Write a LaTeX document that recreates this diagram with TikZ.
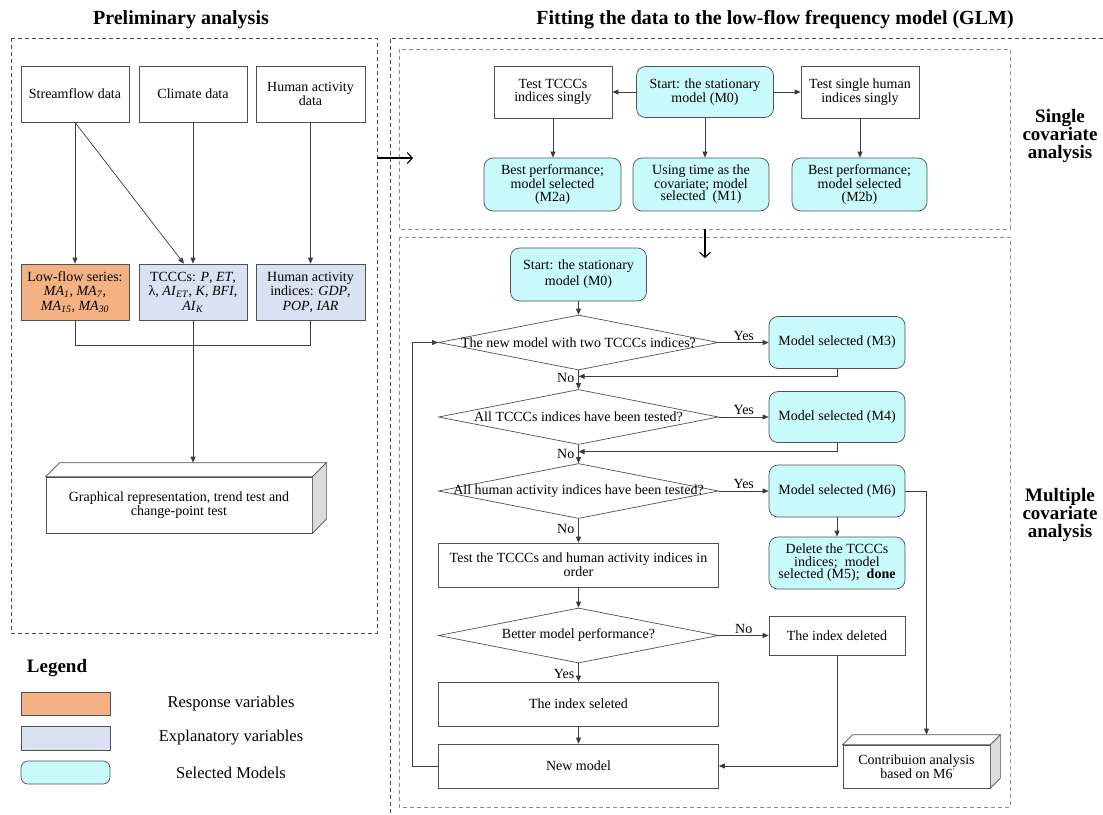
\documentclass[tikz,border=0pt]{standalone}
\usepackage{fontspec}
\setmainfont{Liberation Serif}
\usetikzlibrary{arrows.meta,calc,shapes.geometric}
\definecolor{orangef}{RGB}{244,177,131}
\definecolor{lavf}{RGB}{218,225,243}
\definecolor{cyanf}{RGB}{200,250,252}
\definecolor{bord}{RGB}{80,80,80}
\definecolor{connc}{RGB}{60,60,60}
\begin{document}
\begin{tikzpicture}[x=1pt,y=-1pt,
 every node/.style={font=\fontsize{14}{12.5}\selectfont},
 box/.style={draw=bord, line width=0.7pt, fill=white, align=center, inner sep=0pt},
 sel/.style={box, fill=cyanf, rounded corners=9pt},
 dia/.style={diamond, draw=bord, line width=0.7pt, fill=white, inner sep=0pt, minimum width=280pt, minimum height=55pt},
 sz/.style 2 args={minimum width=#1pt, minimum height=#2pt},
 ln/.style={draw=connc, line width=0.7pt},
 face/.style={draw=bord, line width=0.7pt},
 arr/.style={ln, -{Triangle[length=6pt,width=5pt]}},
 bigarr/.style={draw=black, line width=1.1pt, -{Straight Barb[length=5pt,width=11pt]}},
 panel/.style={draw=black!70, dash pattern=on 4pt off 3pt, line width=0.7pt},
 subpanel/.style={draw=black!45, dash pattern=on 4pt off 3pt, line width=0.7pt},
 ttl/.style={font=\fontsize{20}{22}\selectfont\bfseries},
 side/.style={font=\fontsize{19}{18}\selectfont\bfseries, align=center},
 lab/.style={font=\fontsize{14}{14}\selectfont, inner sep=1pt},
 leg/.style={font=\fontsize{16.5}{18}\selectfont},
 idx/.style={font=\fontsize{14}{14.5}\selectfont}
]
\useasboundingbox (0,0) rectangle (1103,814);

% titles
\node[ttl] (t1) at (181,20) {Preliminary analysis};
\node[ttl] (t2) at (775,20) {Fitting the data to the low-flow frequency model (GLM)};

% panels
\draw[panel] (11,38) rectangle (377,633);
\draw[panel] (390,820) -- (390,38) -- (1110,38);
\draw[subpanel] (399,49) rectangle (1010,229);
\draw[subpanel] (399,237) rectangle (1010,807);

% ---------- left panel ----------
\node[box, sz={108}{56}] (sf) at (75,94) {Streamflow data};
\node[box, sz={108}{56}] (cd) at (193,94) {Climate data};
\node[box, sz={109}{56}] (ha) at (310.5,94) {Human activity\\data};
\node[box, idx, fill=orangef, sz={108}{56}] (lf) at (75,292) {Low-flow series:\\\textit{MA}\textsubscript{\textit{1}}, \textit{MA}\textsubscript{\textit{7}},\\\textit{MA}\textsubscript{\textit{15}}, \textit{MA}\textsubscript{\textit{30}}};
\node[box, idx, fill=lavf, sz={108}{56}] (ti) at (193,292) {TCCCs: \textit{P}, \textit{ET},\\λ, \textit{AI}\textsubscript{\textit{ET}}, \textit{K}, \textit{BFI},\\\textit{AI}\textsubscript{\textit{K}}};
\node[box, idx, fill=lavf, sz={109}{56}] (hi) at (310.5,292) {Human activity\\indices: \textit{GDP},\\\textit{POP}, \textit{IAR}};
\node[box, sz={266}{56}] (gr) at (179,505) {Graphical representation, trend test and\\change-point test};
\draw[face, fill=white] (gr.north west) -- ++(14,-14) -- ($(gr.north east)+(14,-14)$) -- (gr.north east) -- cycle;
\draw[face, fill=black!14] (gr.north east) -- ++(14,-14) -- ($(gr.south east)+(14,-14)$) -- (gr.south east) -- cycle;

\draw[arr] (sf.south) -- (lf.north);
\draw[arr] (sf.south) -- ($(ti.north)+(-9,0)$);
\draw[arr] (cd.south) -- (ti.north);
\draw[arr] (ha.south) -- (hi.north);
\coordinate (jn) at ($(ti.south)+(0,25)$);
\draw[ln] (lf.south) |- (jn) -| (hi.south);
\draw[ln] (ti.south) -- (jn);
\coordinate (grtop) at ($(gr.north)+(14,-14)$);
\draw[arr] (jn) -- (grtop);

% legend
\node[font=\fontsize{19}{20}\selectfont\bfseries] (lgt) at (57,668) {Legend};
\node[box, fill=orangef, sz={89}{23}] (lg1) at (65.5,703.5) {};
\node[box, fill=lavf, sz={89}{24}] (lg2) at (65.5,738) {};
\node[sel, rounded corners=7pt, sz={89}{23}] (lg3) at (65.5,772.5) {};
\node[leg] (lt1) at (231,703.5) {Response variables};
\node[leg] (lt2) at (231,738) {Explanatory variables};
\node[leg] (lt3) at (231,772.5) {Selected Models};

% panel arrows
\coordinate (pa) at (377,158);
\coordinate (pb) at (413,158);
\draw[bigarr] (pa) -- (pb);
\coordinate (pc) at (705,229);
\coordinate (pd) at (705,258);
\draw[bigarr] (pc) -- (pd);

% ---------- single covariate ----------
\node[box, sz={118}{52}] (tt) at (553,92) {Test TCCCs\\indices singly};
\node[sel, sz={137}{51}] (m0s) at (705,92) {Start: the stationary\\model (M0)};
\node[box, sz={118}{52}] (th) at (860,92) {Test single human\\indices singly};
\node[sel, sz={137}{53}] (m2a) at (552.5,184.5) {Best performance;\\model selected\\(M2a)};
\node[sel, sz={136}{53}] (m1) at (701,184.5) {Using time as the\\covariate; model\\selected\ \ (M1)};
\node[sel, sz={135}{53}] (m2b) at (859.5,184.5) {Best performance;\\model selected\\(M2b)};
\draw[arr] (m0s.west) -- (tt.east);
\draw[arr] (m0s.east) -- (th.west);
\draw[arr] (tt.south) -- (tt.south |- m2a.north);
\draw[arr] (m0s.south) -- (m0s.south |- m1.north);
\draw[arr] (th.south) -- (th.south |- m2b.north);

\node[side] (sca) at (1060,136) {Single\\covariate\\analysis};
\node[side] (mca) at (1060,515) {Multiple\\covariate\\analysis};

% ---------- multiple covariate ----------
\node[sel, sz={136}{53}, font=\fontsize{14}{16}\selectfont] (ms0) at (578.5,274.5) {Start: the stationary\\model (M0)};
\node[dia] (d1) at (578.5,342.5) {};
\node[inner sep=0pt] (d1t) at (d1) {The new model with two TCCCs indices?};
\node[sel, sz={136}{52}] (m3) at (837,342.5) {Model selected (M3)};
\node[dia] (d2) at (578.5,417) {};
\node[inner sep=0pt] (d2t) at (d2) {All TCCCs indices have been tested?};
\node[sel, sz={136}{51}] (m4) at (837,417) {Model selected (M4)};
\node[dia] (d3) at (578.5,491) {};
\node[inner sep=0pt] (d3t) at (d3) {All human activity indices have been tested?};
\node[sel, sz={136}{52}] (m6) at (837,491) {Model selected (M6)};
\node[box, sz={280}{44}] (tc) at (578.5,565) {Test the TCCCs and human activity indices in\\order};
\node[sel, sz={136}{52}] (del) at (837,563) {Delete the TCCCs\\indices;\ \ model\\selected (M5);\ \ \textbf{done}};
\node[dia] (d4) at (578.5,635.5) {};
\node[inner sep=0pt] (d4t) at (d4) {Better model performance?};
\node[box, sz={136}{39}] (id) at (837,635.5) {The index deleted};
\node[box, sz={280}{44}] (is) at (578.5,704) {The index seleted};
\node[box, sz={280}{44}] (nm) at (578.5,766) {New model};
\node[box, sz={147}{43}] (cb) at (916.5,766.5) {Contribuion analysis\\based on M6\rlap{\textsuperscript{\scriptsize '}}};
\draw[face, fill=white] (cb.north west) -- ++(10,-10) -- ($(cb.north east)+(10,-10)$) -- (cb.north east) -- cycle;
\draw[face, fill=black!14] (cb.north east) -- ++(10,-10) -- ($(cb.south east)+(10,-10)$) -- (cb.south east) -- cycle;

\draw[arr] (ms0.south) -- (d1.north);
\draw[arr] (d1.east) -- node[lab, above=1pt] (y1) {Yes} (m3.west);
\draw[arr] (d1.south) -- (d2.north);
\coordinate (j1) at ($(d1.south)!0.32!(d2.north)$);
\draw[arr] (m3.south) |- (j1);
\node[lab, anchor=east] (n1) at ($(j1)+(-3,2)$) {No};

\draw[arr] (d2.east) -- node[lab, above=1pt] (y2) {Yes} (m4.west);
\draw[arr] (d2.south) -- (d3.north);
\coordinate (j2) at ($(d2.south)!0.37!(d3.north)$);
\draw[arr] (m4.south) |- (j2);
\node[lab, anchor=east] (n2) at ($(j2)+(-3,2)$) {No};

\draw[arr] (d3.east) -- node[lab, above=1pt] (y3) {Yes} (m6.west);
\draw[arr] (m6.south) -- (del.north);
\coordinate (cbtop) at ($(cb.north)+(10,-10)$);
\draw[arr] (m6.east) -| (cbtop);
\draw[arr] (d3.south) -- (tc.north);
\coordinate (j3) at ($(d3.south)!0.44!(tc.north)$);
\node[lab, anchor=east] (n3) at ($(j3)+(-3,0)$) {No};

\draw[arr] (tc.south) -- (d4.north);
\draw[arr] (d4.east) -- node[lab, above=1pt] (n4) {No} (id.west);
\draw[arr] (d4.south) -- (is.north);
\node[lab, anchor=east] (y4) at ($(d4.south)!0.58!(is.north)+(-3,0)$) {Yes};
\draw[arr] (is.south) -- (nm.north);
\draw[arr] (id.south) |- (nm.east);
\draw[arr] (nm.west) -- ++(-26,0) |- (d1.west);
\end{tikzpicture}
\end{document}
